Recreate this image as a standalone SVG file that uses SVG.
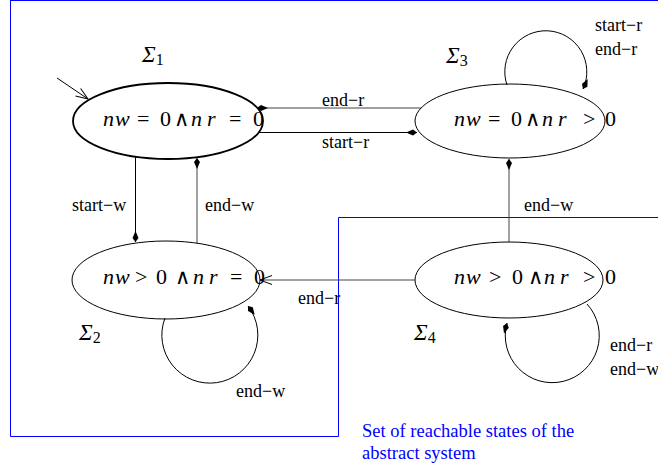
<svg xmlns="http://www.w3.org/2000/svg" width="658" height="469" viewBox="0 0 658 469">
<defs>
<style>
.st{fill:none;stroke:#000;stroke-width:1}
.thick{stroke-width:1.8}
.ln{fill:none;stroke:#000;stroke-width:1}
.gr{stroke:#444}
.m{font-family:"Liberation Serif","DejaVu Serif",serif;font-size:22px;fill:#000}
.i{font-style:italic}
.w{font-family:"DejaVu Serif",serif;font-size:21px}
.lb{font-family:"Liberation Serif","Times New Roman",serif;font-size:18px;fill:#000}
.sg{font-family:"Liberation Serif","DejaVu Serif",serif;font-size:23px;font-style:italic;fill:#000}
.sub{font-size:16px;font-style:normal}
.blue{font-family:"Liberation Serif","Times New Roman",serif;font-size:18.5px;fill:#0000ff}
</style>
<marker id="kite" markerUnits="userSpaceOnUse" markerWidth="14" markerHeight="10" viewBox="-12 -5 14 10" refX="0" refY="0" orient="auto">
<path d="M0,0 L-4,-3 L-11,0 L-4,3 Z" fill="#000"/>
</marker>
<marker id="open" markerUnits="userSpaceOnUse" markerWidth="16" markerHeight="12" viewBox="-14 -6 16 12" refX="0" refY="0" orient="auto">
<path d="M-12,-4.5 L0,0 L-12,4.5" fill="none" stroke="#000" stroke-width="1"/>
</marker>
</defs>
<rect width="658" height="469" fill="#fff"/>
<polyline points="10.5,0.5 658,0.5" fill="none" stroke="#0000ff" stroke-width="1"/>
<polyline points="10.5,0 10.5,436.5 338.5,436.5 338.5,217.5 658,217.5" fill="none" stroke="#0000ff" stroke-width="1"/>

<g id="connectors">
<line class="ln" x1="57" y1="78" x2="88" y2="99" marker-end="url(#open)"/>
<line class="ln gr" x1="421" y1="108" x2="257" y2="108" marker-end="url(#kite)"/>
<line class="ln" x1="259" y1="132.5" x2="417" y2="132.5" marker-end="url(#kite)"/>
<line class="ln" x1="135.5" y1="157" x2="135.5" y2="242" marker-end="url(#kite)"/>
<line class="ln gr" x1="197" y1="243" x2="197" y2="158" marker-end="url(#kite)"/>
<line class="ln gr" x1="509" y1="242" x2="509" y2="159" marker-end="url(#kite)"/>
<line class="ln gr" x1="415" y1="280" x2="260" y2="280" marker-end="url(#open)"/>
<path class="ln" d="M507,85 A41,41 0 1 1 583,89" marker-end="url(#kite)"/>
<path class="ln" d="M165,318 A48,48 0 1 0 248,306" marker-end="url(#kite)"/>
<path class="ln" d="M587,304 A47,47 0 1 1 507,323" marker-end="url(#kite)"/>
<text class="lb" x="322" y="106">end−r</text>
<text class="lb" x="322" y="148">start−r</text>
<text class="lb" x="72" y="211">start−w</text>
<text class="lb" x="205" y="211">end−w</text>
<text class="lb" x="524" y="211">end−w</text>
<text class="lb" x="298" y="304">end−r</text>
<text class="lb" x="595" y="31">start−r</text>
<text class="lb" x="595" y="55">end−r</text>
<text class="lb" x="236" y="397">end−w</text>
<text class="lb" x="610" y="351">end−r</text>
<text class="lb" x="610" y="375">end−w</text>
</g>

<g id="s1">
<ellipse class="st thick" cx="168" cy="121" rx="95" ry="38"/>
<text class="m" y="126"><tspan class="i" x="103">n</tspan><tspan class="i" x="115">w</tspan><tspan x="137">=</tspan><tspan x="160">0</tspan><tspan class="w" x="174">∧</tspan><tspan class="i" x="191">n</tspan><tspan class="i" x="207">r</tspan><tspan x="229">=</tspan><tspan x="253">0</tspan></text>
<text class="sg" x="142" y="62">Σ<tspan class="sub" dy="3">1</tspan></text>
</g>

<g id="s3">
<ellipse class="st" cx="510" cy="121" rx="95" ry="37"/>
<text class="m" y="126"><tspan class="i" x="454">n</tspan><tspan class="i" x="466">w</tspan><tspan x="488">=</tspan><tspan x="511">0</tspan><tspan class="w" x="525">∧</tspan><tspan class="i" x="542">n</tspan><tspan class="i" x="558">r</tspan><tspan x="583">&gt;</tspan><tspan x="605">0</tspan></text>
<text class="sg" x="446" y="63">Σ<tspan class="sub" dy="3">3</tspan></text>
</g>

<g id="s2">
<ellipse class="st" cx="166" cy="280" rx="94" ry="39"/>
<text class="m" y="284"><tspan class="i" x="103">n</tspan><tspan class="i" x="115">w</tspan><tspan x="135">&gt;</tspan><tspan x="156">0</tspan><tspan class="w" x="175">∧</tspan><tspan class="i" x="193">n</tspan><tspan class="i" x="209">r</tspan><tspan x="230">=</tspan><tspan x="254">0</tspan></text>
<text class="sg" x="79" y="340">Σ<tspan class="sub" dy="3">2</tspan></text>
</g>

<g id="s4">
<ellipse class="st" cx="509" cy="280" rx="94" ry="38"/>
<text class="m" y="284"><tspan class="i" x="454">n</tspan><tspan class="i" x="466">w</tspan><tspan x="489">&gt;</tspan><tspan x="512">0</tspan><tspan class="w" x="528">∧</tspan><tspan class="i" x="544">n</tspan><tspan class="i" x="560">r</tspan><tspan x="583">&gt;</tspan><tspan x="605">0</tspan></text>
<text class="sg" x="414" y="340">Σ<tspan class="sub" dy="3">4</tspan></text>
</g>

<g id="caption">
<text class="blue" x="362" y="437">Set of reachable states of the</text>
<text class="blue" x="362" y="459">abstract system</text>
</g>
</svg>
